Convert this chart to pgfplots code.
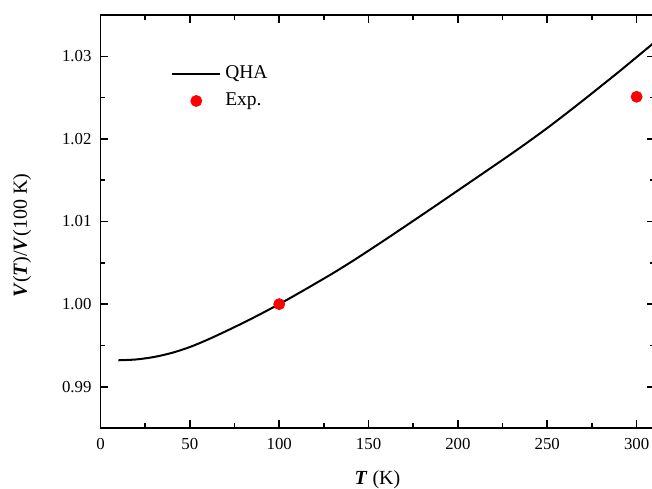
\documentclass[border=0pt]{standalone}
\usepackage{fontspec}
\setmainfont{Liberation Serif}
\usepackage{pgfplots}
\pgfplotsset{compat=1.18}
\definecolor{expred}{RGB}{255,0,0}
\pgfplotsset{
    lineleg/.style={legend image code/.code={\draw[##1] (0pt,0pt) -- (24pt,0pt);}},
    markleg/.style={legend image code/.code={\draw[##1] plot coordinates {(12pt,0pt)};}},
}

\begin{document}
\begin{tikzpicture}
\begin{axis}[
    name=ax,
    scale only axis,
    width=277pt, height=206.5pt,
    xmin=0, xmax=310,
    ymin=0.985, ymax=1.035,
    xtick={0,50,...,300},
    ytick={0.99,1.00,1.01,1.02,1.03},
    minor x tick num=1,
    minor y tick num=1,
    tick align=inside,
    major tick length=4pt,
    minor tick length=2.5pt,
    axis line style={line width=0.85pt},
    every tick/.style={black, line width=0.8pt},
    tick label style={font=\fontsize{8.4}{10}\selectfont},
    /pgf/number format/assume math mode=true,
    yticklabel style={xshift=-1pt, /pgf/number format/.cd, fixed, fixed zerofill, precision=2},
    xticklabel style={yshift=-1.75pt, /pgf/number format/.cd, fixed, precision=0},
    label style={font=\fontsize{10}{12}\selectfont},
    xlabel={\textbf{\textit{T}} (K)},
    ylabel={\textbf{\textit{V}}(\textbf{\textit{T}})/\textbf{\textit{V}}(100 K)},
    xlabel style={at={(axis description cs:0.5,-0.1259)}, anchor=center},
    ylabel style={at={(axis description cs:-0.1417,0.466)}, anchor=center},
    legend cell align=left,
    legend style={draw=none, fill=none, at={(0.127,0.88)}, anchor=north west,
        font=\fontsize{9.75}{11}\selectfont, inner sep=0pt, row sep=4.5pt,
        nodes={inner sep=0pt, text height=7pt, text depth=2pt}},
]
\addplot[black, line width=1pt, smooth, lineleg] coordinates {
    (10,0.99320) (20,0.99330) (30,0.99360) (40,0.99410) (50,0.99480)
    (60,0.99570) (70,0.99670) (80,0.99775) (90,0.99885) (100,1.00000)
    (110,1.00121) (120,1.00246) (130,1.00373) (140,1.00507) (150,1.00647)
    (160,1.00790) (170,1.00935) (180,1.01081) (190,1.01228) (200,1.01376)
    (210,1.01524) (220,1.01672) (230,1.01821) (240,1.01974) (250,1.02132)
    (260,1.02297) (270,1.02466) (280,1.02638) (290,1.02812) (300,1.02990)
    (310,1.03170)
};
\addlegendentry{\hspace{2pt}QHA}
\addplot[only marks, mark=*, mark size=2.75pt, color=expred, markleg] coordinates {
    (100,1.0000) (300,1.0251)
};
\addlegendentry{\hspace{2pt}Exp.}
\end{axis}
\pgfresetboundingbox
\path[use as bounding box] ([shift={(-50.25pt,-30pt)}]ax.south west) rectangle ([shift={(-1.25pt,7.5pt)}]ax.north east);
\end{tikzpicture}
\end{document}
